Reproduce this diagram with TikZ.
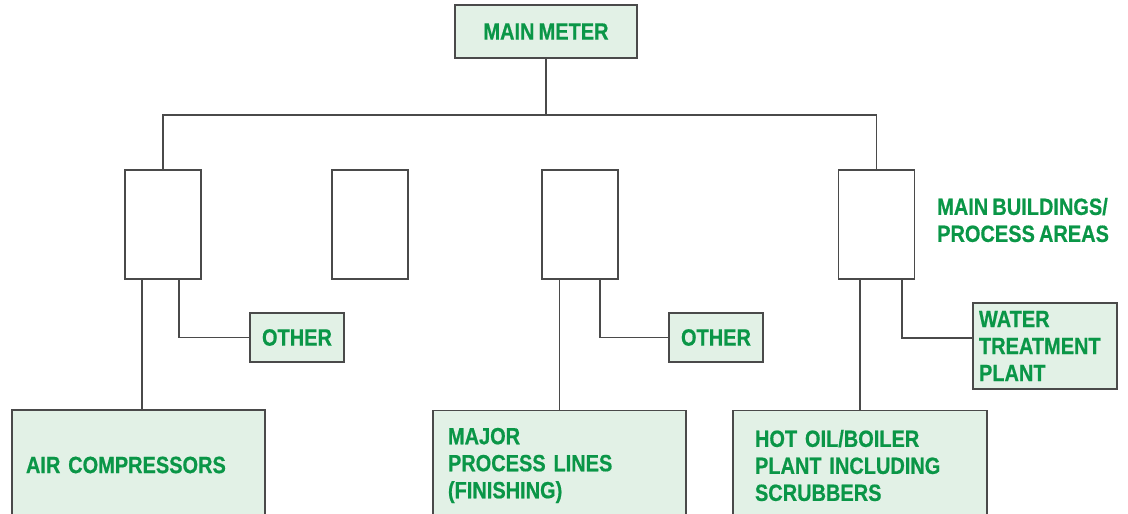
\documentclass[tikz,border=0pt]{standalone}
\usepackage{fontspec}
\setmainfont{Liberation Sans}[FakeStretch=0.85, WordSpace=0.75, BoldFeatures={FakeBold=0.6}]
\definecolor{tgreen}{HTML}{0A9647}
\definecolor{tfill}{HTML}{E2F1E6}
\definecolor{tline}{HTML}{4A4A4A}
\begin{document}
\begin{tikzpicture}[x=1pt,y=-1pt,
  every node/.style={font=\fontsize{23.5}{27}\selectfont\bfseries, text=tgreen},
  gbox/.style={draw=tline, line width=1.2pt, fill=tfill, rectangle, inner ysep=0pt},
  ebox/.style={draw=tline, line width=1.2pt, rectangle, minimum width=76, minimum height=109, inner sep=0pt},
  conn/.style={draw=tline, line width=1.2pt}]
\useasboundingbox (0,0) rectangle (1128,514);
% top
\node[gbox, minimum width=182, minimum height=53, inner xsep=0pt] (mm) at (546,31.5) {MAIN METER};
\coordinate (bus) at (546,115);
% middle boxes
\node[ebox] (b1) at (163,224.5) {};
\node[ebox] (b2) at (370,224.5) {};
\node[ebox] (b3) at (580,224.5) {};
\node[ebox] (b4) at (876.5,224.5) {};
\node[anchor=west, align=left, inner sep=0pt] (lbl) at (937,220) {MAIN BUILDINGS/\\PROCESS AREAS};
% other boxes
\node[gbox, minimum width=94, minimum height=49, inner xsep=0pt] (oth1) at (297,337.5) {OTHER};
\node[gbox, minimum width=94, minimum height=49, inner xsep=0pt] (oth2) at (716,337.5) {OTHER};
\node[gbox, minimum height=86, text width=132, inner xsep=6, align=left] (water) at (1045,346) {WATER\\TREATMENT\\PLANT};
% bottom boxes
\node[gbox, minimum height=110, text width=225, inner xsep=14, align=left] (air) at (138.5,465) {AIR COMPRESSORS};
\node[gbox, minimum height=110, text width=223, inner xsep=15, align=left] (major) at (559.5,465.5) {MAJOR\\PROCESS LINES\\(FINISHING)};
\node[gbox, minimum height=110, text width=210, inner xsep=22, align=left] (hot) at (860,465.5) {HOT OIL/BOILER\\PLANT INCLUDING\\SCRUBBERS};
% connectors
\draw[conn] (mm.south) -- (bus);
\draw[conn] (b1.north) -- (b1.north |- bus) -- (b4.north |- bus) -- (b4.north);
\draw[conn] ([xshift=-21]b1.south) -- ([xshift=-21]b1.south |- air.north);
\draw[conn] ([xshift=16]b1.south) |- (oth1.west);
\draw[conn] (major.north |- b3.south) -- (major.north);
\draw[conn] ([xshift=20]b3.south) |- (oth2.west);
\draw[conn] (hot.north |- b4.south) -- (hot.north);
\draw[conn] ([xshift=25.5]b4.south) |- ([yshift=8]water.west);
\end{tikzpicture}
\end{document}
